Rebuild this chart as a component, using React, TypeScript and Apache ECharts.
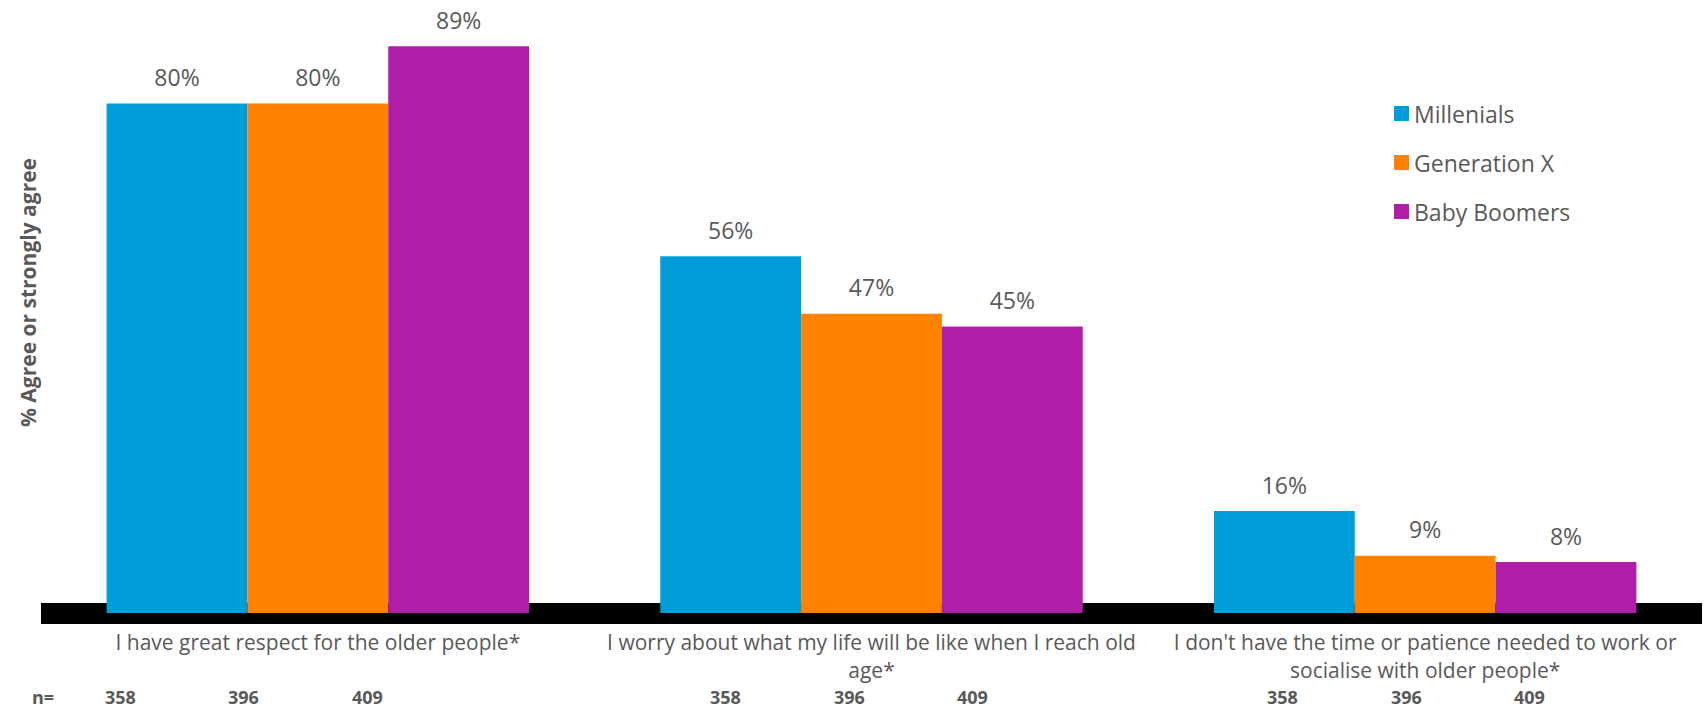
import React, { useEffect, useRef } from "react";
import * as echarts from "echarts";

const categories = [
  "I have great respect for the older people*",
  "I worry about what my life will be like when I reach old\nage*",
  "I don't have the time or patience needed to work or\nsocialise with older people*",
];
const seriesNames = ["Millenials", "Generation X", "Baby Boomers"];
const millenials = [80, 56, 16];
const generationX = [80, 47, 9];
const babyBoomers = [89, 45, 8];
const nCounts = [358, 396, 409];
const nLabelLeft = [
  [105, 228, 352],
  [710, 834, 957],
  [1267, 1391, 1514],
];
const colors = ["#009dd9", "#ff8200", "#b01ea8"];
const FONT = "'Open Sans', 'Noto Sans', sans-serif";
const GRAY = "#595959";

export default function App() {
  const ref = useRef<HTMLDivElement>(null);
  useEffect(() => {
    if (!ref.current) return;
    const chart = echarts.init(ref.current, undefined, { renderer: "svg" });
    const values = [millenials, generationX, babyBoomers];
    const nTexts: any[] = [
      {
        type: "text",
        x: 32,
        y: 697,
        style: { text: "n=", font: `bold 18px ${FONT}`, fill: GRAY, verticalAlign: "middle" },
      },
    ];
    nLabelLeft.forEach((row) =>
      row.forEach((x, j) =>
        nTexts.push({
          type: "text",
          x,
          y: 697,
          style: { text: String(nCounts[j]), font: `bold 18px ${FONT}`, fill: GRAY, verticalAlign: "middle" },
        })
      )
    );
    chart.setOption({
      animation: false,
      textStyle: { fontFamily: FONT },
      grid: { left: 41, right: 2, top: 8, bottom: 95 },
      legend: {
        orient: "vertical",
        left: 1394,
        top: 102,
        itemWidth: 15,
        itemHeight: 15,
        itemGap: 26,
        icon: "rect",
        padding: 0,
        textStyle: { fontSize: 23, color: GRAY, fontFamily: FONT },
        data: seriesNames,
      },
      xAxis: {
        type: "category",
        data: categories,
        axisLine: { lineStyle: { color: "#000", width: 21, cap: "butt" } },
        axisTick: { show: false },
        axisLabel: {
          interval: 0,
          margin: 15,
          fontSize: 21,
          lineHeight: 28,
          color: GRAY,
          fontFamily: FONT,
        },
      },
      yAxis: {
        type: "value",
        min: 0,
        max: 95,
        show: false,
      },
      graphic: [
        {
          type: "text",
          x: 27.5,
          y: 292.5,
          rotation: Math.PI / 2,
          style: {
            text: "% Agree or strongly agree",
            font: `bold 21px ${FONT}`,
            fill: GRAY,
            align: "center",
            verticalAlign: "middle",
          },
        },
        ...nTexts,
      ],
      series: seriesNames.map((name, i) => ({
        name,
        type: "bar",
        data: values[i],
        barGap: "0%",
        barCategoryGap: "23.7%",
        itemStyle: { color: colors[i] },
        label: {
          show: true,
          position: "top",
          distance: 15,
          fontSize: 23,
          color: GRAY,
          fontFamily: FONT,
          formatter: (p: any) => `${p.value}%`,
        },
      })),
    });
    return () => chart.dispose();
  }, []);
  return (
    <div
      ref={ref}
      style={{ position: "absolute", left: 0, top: 0, width: 1704, height: 708 }}
    />
  );
}
